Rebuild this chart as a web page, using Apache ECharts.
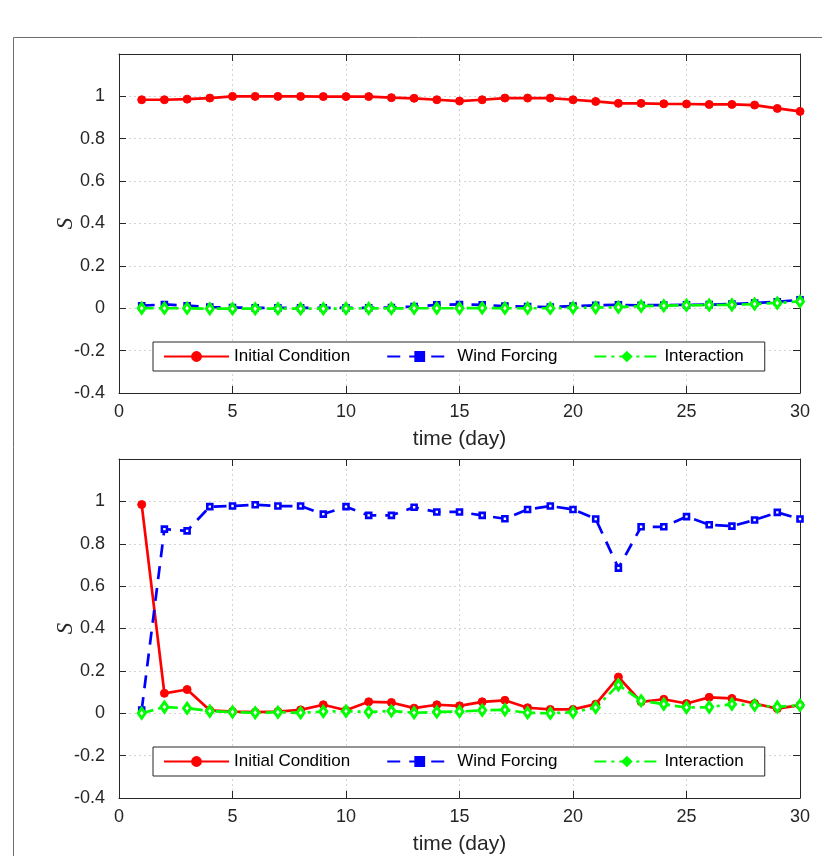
<!DOCTYPE html>
<html><head><meta charset="utf-8">
<script src="https://cdn.jsdelivr.net/npm/echarts@6/dist/echarts.min.js"></script>
<style>html,body{margin:0;padding:0;background:#fff;}#c{width:822px;height:856px;}</style>
</head><body><div id="c"></div>
<script>
const days = [1,2,3,4,5,6,7,8,9,10,11,12,13,14,15,16,17,18,19,20,21,22,23,24,25,26,27,28,29,30];
const seriesNames = ['Initial Condition','Wind Forcing','Interaction'];
const xTicks = {min:0, max:30, interval:5};
const yTicks = {min:-0.4, max:1.2, interval:0.2};

const topIC = [0.984,0.984,0.987,0.992,1.0,1.0,1.0,1.0,0.999,0.999,0.999,0.994,0.991,0.984,0.978,0.984,0.992,0.992,0.992,0.984,0.976,0.967,0.967,0.965,0.964,0.962,0.962,0.959,0.943,0.929];
const topWind = [0.012,0.018,0.012,0.006,0.003,0.002,0.002,0.002,0.002,0.002,0.002,0.003,0.008,0.016,0.018,0.016,0.010,0.008,0.006,0.010,0.014,0.016,0.014,0.015,0.016,0.017,0.020,0.025,0.030,0.040];
const topInter = [0.000,0.000,0.000,-0.002,-0.002,-0.002,-0.002,-0.002,-0.002,-0.001,-0.001,-0.001,0.000,0.000,0.000,0.001,0.000,0.000,0.000,0.002,0.003,0.005,0.010,0.012,0.014,0.015,0.016,0.020,0.025,0.032];

const botIC = [0.985,0.094,0.112,0.014,0.008,0.005,0.008,0.016,0.040,0.014,0.054,0.051,0.024,0.040,0.035,0.054,0.061,0.026,0.018,0.018,0.043,0.171,0.054,0.066,0.046,0.075,0.070,0.046,0.022,0.038];
const botWind = [0.015,0.869,0.861,0.975,0.978,0.984,0.978,0.978,0.940,0.975,0.934,0.934,0.972,0.950,0.950,0.934,0.918,0.962,0.978,0.962,0.917,0.685,0.880,0.880,0.928,0.890,0.883,0.912,0.948,0.917];
const botInter = [0.000,0.029,0.024,0.010,0.006,0.002,0.005,0.002,0.008,0.010,0.006,0.011,0.002,0.006,0.008,0.014,0.016,0.002,0.000,0.005,0.027,0.134,0.059,0.043,0.027,0.029,0.043,0.038,0.030,0.038];

const FONT = 'Liberation Sans, Arial, sans-serif';
const AX = '#262626';
const COLORS = ['#ff0000','#0000ff','#00ff00'];
const pairs = v => days.map((d,i)=>[d, v[i]]);

function xAxes(gi){
  return [{
    type:'value', gridIndex:gi, position:'bottom', min:xTicks.min, max:xTicks.max, interval:xTicks.interval,
    name:'time (day)', nameLocation:'middle', nameGap:36, nameMoveOverlap:false,
    nameTextStyle:{fontFamily:FONT, fontSize:21, color:AX},
    axisLine:{show:true, onZero:false, lineStyle:{color:AX, width:1}},
    axisTick:{show:true, inside:true, length:7, lineStyle:{color:AX}},
    axisLabel:{fontFamily:FONT, fontSize:18, color:AX, margin:10},
    splitLine:{show:true, lineStyle:{color:'#d4d4d4', type:[2,3], width:1}}
  },{
    type:'value', gridIndex:gi, position:'top', min:xTicks.min, max:xTicks.max, interval:xTicks.interval,
    axisLine:{show:true, onZero:false, lineStyle:{color:AX, width:1}},
    axisTick:{show:true, inside:true, length:7, lineStyle:{color:AX}},
    axisLabel:{show:false}, splitLine:{show:false}
  }];
}
function yAxes(gi){
  return [{
    type:'value', gridIndex:gi, position:'left', min:yTicks.min, max:yTicks.max, interval:yTicks.interval,
    name:'S', nameLocation:'middle', nameGap:42, nameMoveOverlap:false,
    nameTextStyle:{fontFamily:'Liberation Serif, serif', fontStyle:'italic', fontSize:23, color:AX},
    axisLine:{show:true, onZero:false, lineStyle:{color:AX, width:1}},
    axisTick:{show:true, inside:true, length:7, lineStyle:{color:AX}},
    axisLabel:{fontFamily:FONT, fontSize:18, color:AX, margin:14,
      formatter: v => (v > 1.19 ? '' : String(Math.round(v*10)/10))},
    splitLine:{show:true, lineStyle:{color:'#d4d4d4', type:[2,3], width:1}}
  },{
    type:'value', gridIndex:gi, position:'right', min:yTicks.min, max:yTicks.max, interval:yTicks.interval,
    axisLine:{show:true, onZero:false, lineStyle:{color:AX, width:1}},
    axisTick:{show:true, inside:true, length:7, lineStyle:{color:AX}},
    axisLabel:{show:false}, splitLine:{show:false}
  }];
}
function mkSeries(gi, ic, wind, inter){
  const xi = gi*2, yi = gi*2;
  return [{
    name:seriesNames[0], type:'line', xAxisIndex:xi, yAxisIndex:yi, data:pairs(ic),
    symbol:'circle', symbolSize:8, showAllSymbol:true,
    lineStyle:{color:COLORS[0], width:2.7},
    itemStyle:{color:COLORS[0], borderColor:COLORS[0], borderWidth:1},
    animation:false
  },{
    name:seriesNames[1], type:'line', xAxisIndex:xi, yAxisIndex:yi, data:pairs(wind),
    symbol:'rect', symbolSize:5, showAllSymbol:true,
    lineStyle:{color:COLORS[1], width:2.7, type:[13,9]},
    itemStyle:{color:'#ffffff', borderColor:COLORS[1], borderWidth:2.6},
    animation:false
  },{
    name:seriesNames[2], type:'line', xAxisIndex:xi, yAxisIndex:yi, data:pairs(inter),
    symbol:'diamond', symbolSize:[7,10], showAllSymbol:true,
    lineStyle:{color:COLORS[2], width:2.7, type:[12,5,3,5]},
    itemStyle:{color:'#ffffff', borderColor:COLORS[2], borderWidth:3},
    animation:false
  }];
}
function mkLegend(top){
  return {
    data:seriesNames.map((n,i)=>({name:n, itemStyle:{color:COLORS[i], borderColor:COLORS[i]}})),
    left:153, top:top, orient:'horizontal',
    itemWidth:65, itemHeight:11, itemGap:36,
    padding:[6,21,6,10],
    borderColor:AX, borderWidth:1, backgroundColor:'#ffffff',
    textStyle:{fontFamily:FONT, fontSize:17, color:'#000'},
    selectedMode:false
  };
}

const chart = echarts.init(document.getElementById('c'), null, {renderer:'canvas'});
chart.setOption({
  animation:false,
  backgroundColor:'#ffffff',
  graphic:[{type:'rect', silent:true, z:-10,
    shape:{x:13.5, y:37.5, width:900, height:900},
    style:{fill:'none', stroke:'#6e6e6e', lineWidth:1}}],
  grid:[{left:119, top:54, width:681, height:339},
        {left:119, top:459, width:681, height:339}],
  xAxis:[...xAxes(0), ...xAxes(1)],
  yAxis:[...yAxes(0), ...yAxes(1)],
  legend:[mkLegend(342), mkLegend(747)],
  series:[...mkSeries(0, topIC, topWind, topInter), ...mkSeries(1, botIC, botWind, botInter)]
});
</script></body></html>
